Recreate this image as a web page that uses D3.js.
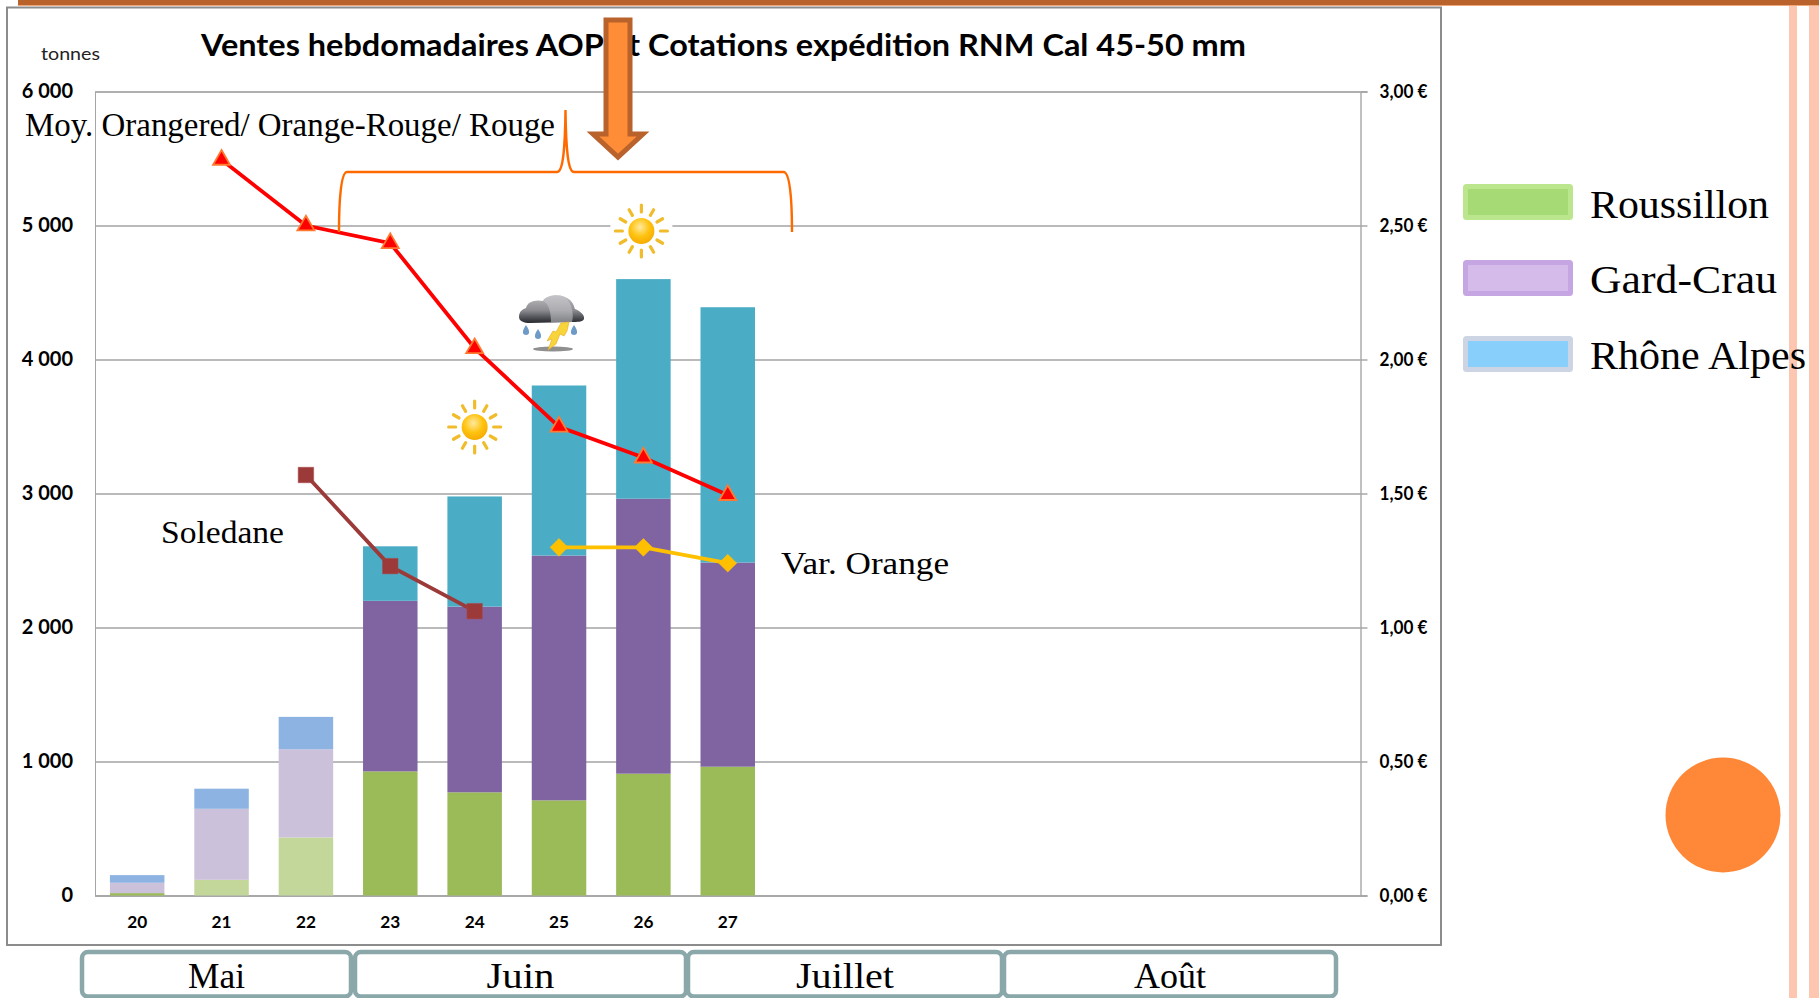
<!DOCTYPE html>
<html><head><meta charset="utf-8">
<script src="https://cdn.jsdelivr.net/npm/d3@7/dist/d3.min.js"></script>
<style>html,body{margin:0;padding:0;background:#fff;overflow:hidden}svg{display:block}</style>
</head><body><svg id="c" width="1819" height="998"></svg>
<script>
const slots = [20,21,22,23,24,25,26,27,28,29,30,31,32,33,34];
const weeks = [20,21,22,23,24,25,26,27];
const roussillon = [18,117,433,926,770,710,909,961];
const gardCrau = [77,530,658,1273,1386,1827,2052,1524];
const rhoneAlpes = [57,150,242,407,822,1269,1639,1905];
const moyRouge = [null,2.745,2.50,2.434,2.042,1.749,1.634,1.494];
const soledane = [null,null,1.569,1.229,1.061,null,null,null];
const varOrange = [null,null,null,null,null,1.299,1.299,1.24];
const leftTicks = [0,1000,2000,3000,4000,5000,6000];
const rightTicks = [0,0.5,1,1.5,2,2.5,3];
const sunWeeks = [24,26];
const months = ["Mai","Juin","Juillet","Août"];
const legendNames = ["Roussillon","Gard-Crau","Rhône Alpes"];
const title = "Ventes hebdomadaires AOP et Cotations expédition RNM Cal 45-50 mm";

const svg = d3.select("#c");
const SERIF = "'Liberation Serif',serif", SANS = "Lato,'Open Sans',sans-serif";
const L = 95, R = 1360.5, T = 91.5, B = 895.5;
const x = d3.scaleBand().domain(slots).range([L,R]).paddingInner(0.354).paddingOuter(0.177);
const y = d3.scaleLinear().domain([0,6000]).range([B,T]);
const y2 = d3.scaleLinear().domain([0,3]).range([B,T]);

function fit(sel,len){ return sel.attr("textLength",len).attr("lengthAdjust","spacingAndGlyphs"); }
function label(txt,xp,yp,len,size,fam,weight,col){
  return fit(svg.append("text").attr("x",xp).attr("y",yp).attr("font-family",fam).attr("font-size",size)
    .attr("font-weight",weight||"normal").attr("fill",col||"#000").text(txt),len);
}
const defs = svg.append("defs");
const sg = defs.append("radialGradient").attr("id","sunG").attr("cx","45%").attr("cy","35%").attr("r","65%");
sg.append("stop").attr("offset","0").attr("stop-color","#ffe9a0");
sg.append("stop").attr("offset","0.55").attr("stop-color","#ffc412");
sg.append("stop").attr("offset","1").attr("stop-color","#f7ab00");
const cg = defs.append("linearGradient").attr("id","cloudG").attr("x1",0).attr("y1",0).attr("x2",0).attr("y2",1);
cg.append("stop").attr("offset","0").attr("stop-color","#bfbfc3");
cg.append("stop").attr("offset","0.55").attr("stop-color","#8b8b90");
cg.append("stop").attr("offset","0.9").attr("stop-color","#3a3c42");
cg.append("stop").attr("offset","1").attr("stop-color","#2a2c32");

// slide decoration
svg.append("rect").attr("x",1789).attr("y",5).attr("width",8).attr("height",993).attr("fill","#fdc6b0");
svg.append("rect").attr("x",1809).attr("y",5).attr("width",10).attr("height",993).attr("fill","#fdc6b0");
svg.append("rect").attr("x",18).attr("y",0).attr("width",1801).attr("height",5).attr("fill","#b9622b");
svg.append("rect").attr("x",18).attr("y",5).attr("width",1801).attr("height",1).attr("fill","#f0a878");
svg.append("ellipse").attr("cx",1723).attr("cy",815).attr("rx",57.5).attr("ry",57.5).attr("fill","#ff8838");

// chart frame
svg.append("rect").attr("x",7).attr("y",7.5).attr("width",1434).attr("height",937.5)
  .attr("fill","#fff").attr("stroke","#8c8c8c").attr("stroke-width",2);

// grid + axes
const gl = svg.append("g").attr("transform",`translate(${L},0)`)
  .call(d3.axisLeft(y).tickValues(leftTicks).tickSize(-(R-L)).tickPadding(22)
    .tickFormat(d=>d3.format(",")(d).replace(","," ")));
gl.select(".domain").attr("stroke","#a6a6a6").attr("stroke-width",1);
gl.selectAll(".tick line").attr("stroke","#a3a3a3").attr("stroke-width",1.4);
gl.selectAll(".tick text").attr("font-family",SANS).attr("font-weight",700).attr("font-size",20).attr("fill","#000");
const gr = svg.append("g").attr("transform",`translate(${R},0)`)
  .call(d3.axisRight(y2).tickValues(rightTicks).tickSize(7).tickPadding(12)
    .tickFormat(d=>d3.format(".2f")(d).replace(".",",")+" €"));
gr.select(".domain").attr("stroke","#a0a0a0").attr("stroke-width",1.3);
gr.selectAll(".tick line").attr("stroke","#a3a3a3").attr("stroke-width",1.4);
fit(gr.selectAll(".tick text").attr("font-family",SANS).attr("font-weight",700).attr("font-size",18).attr("fill","#000"),48);
const gb = svg.append("g").attr("transform",`translate(0,${B})`)
  .call(d3.axisBottom(x).tickValues(weeks).tickSize(0).tickPadding(20));
gb.select(".domain").attr("stroke","#a6a6a6").attr("stroke-width",1.4);
fit(gb.selectAll(".tick text").attr("font-family",SANS).attr("font-weight",700).attr("font-size",17.5).attr("fill","#000"),20);

// stacked bars
const table = weeks.map((w,i)=>({week:w,Roussillon:roussillon[i],Gard:gardCrau[i],Rhone:rhoneAlpes[i]}));
const stack = d3.stack().keys(["Roussillon","Gard","Rhone"])(table);
const dark = {Roussillon:"#9bbb59",Gard:"#8064a2",Rhone:"#4bacc6"};
const pale = {Roussillon:"#c4d79b",Gard:"#ccc1da",Rhone:"#8db3e2"};
const earlyWeeks = [20,21,22];
svg.append("g").selectAll("g").data(stack).join("g").each(function(s){
  d3.select(this).selectAll("rect").data(s).join("rect")
    .attr("x",d=>x(d.data.week)).attr("width",x.bandwidth())
    .attr("y",d=>y(d[1])).attr("height",d=>y(d[0])-y(d[1]))
    .attr("fill",d=>{
      if(s.key==="Roussillon" && d.data.week===20) return dark[s.key];
      return earlyWeeks.includes(d.data.week)?pale[s.key]:dark[s.key];
    });
});

// title
label(title,201,56,1045,31,SANS,700);
label("tonnes",41,60,59,18,SANS,400,"#222");

// price lines
function series(vals,col,sym,size,stroke,rot){
  const pts = vals.map((v,i)=>({w:weeks[i],v})).filter(d=>d.v!==null);
  const line = d3.line().x(d=>x(d.w)+x.bandwidth()/2).y(d=>y2(d.v));
  svg.append("path").attr("d",line(pts)).attr("fill","none").attr("stroke",col).attr("stroke-width",3.8);
  svg.append("g").selectAll("path").data(pts).join("path")
    .attr("d",d3.symbol().type(sym).size(size))
    .attr("transform",d=>`translate(${x(d.w)+x.bandwidth()/2},${y2(d.v)}) rotate(${rot||0})`)
    .attr("fill",sym===d3.symbolTriangle?"#ff0000":col).attr("stroke",stroke).attr("stroke-width",sym===d3.symbolTriangle?1.8:0.5);
}
series(moyRouge,"#ff0000",d3.symbolTriangle,125,"#ff7a30");
series(soledane,"#9b3a38",d3.symbolSquare,240,"#a84a48");
series(varOrange,"#ffc000",d3.symbolSquare,160,"#ffc000",45);

// weather icons
function sun(cx,cy){
  const g = svg.append("g").attr("transform",`translate(${cx},${cy})`);
  g.append("rect").attr("x",-31).attr("y",-31).attr("width",62).attr("height",62).attr("fill","#fff");
  d3.range(12).forEach(k=>{
    const a = k*Math.PI/6, r0 = k%3===0?19:18, r1 = k%3===0?26:24.5;
    g.append("line").attr("x1",r0*Math.sin(a)).attr("y1",-r0*Math.cos(a))
      .attr("x2",r1*Math.sin(a)).attr("y2",-r1*Math.cos(a))
      .attr("stroke","#f0bc2c").attr("stroke-width",3.2).attr("stroke-linecap","round");
  });
  g.append("circle").attr("r",13).attr("fill","url(#sunG)");
}
sunWeeks.forEach(w=>sun(x(w)+x.bandwidth()/2-(w===26?2:0),w===26?231:427));
const st = svg.append("g");
st.append("ellipse").attr("cx",553).attr("cy",349).attr("rx",20).attr("ry",2.6).attr("fill","#8f8f8f");
st.append("path").attr("fill","url(#cloudG)")
  .attr("d","M519,317 C519,311 523,309 526,308 C527,302 535,299 543,301 C545,295 562,292 570,300 C574,304 574,307 575,309 C580,311 585,315 584,319 C583,322 577,322 572,322 L530,323 C524,323 519,321 519,317 Z");
st.append("path").attr("d","M543,301 C549,304 551,312 551,322 L572,322 C574,314 572,304 566,298 C560,293 548,294 543,301 Z")
  .attr("fill","#c9c9cc").attr("opacity",.55);
st.append("path").attr("d","M561,323 L569,322 L567,331 L564,336 L560,334 L556,344 L548,350 L552,339 L547,341 L553,331 L556,332 Z")
  .attr("fill","#f7d43a").attr("stroke","#e8a820").attr("stroke-width",.6);
[[526,330],[538,334],[574,330]].forEach(c=>
  st.append("path").attr("d",`M${c[0]},${c[1]-5} C${c[0]+5},${c[1]+2} ${c[0]+3},${c[1]+5} ${c[0]},${c[1]+5} C${c[0]-3},${c[1]+5} ${c[0]-5},${c[1]+2} ${c[0]},${c[1]-5} Z`).attr("fill","#6e9ac8"));

// brace
svg.append("path").attr("fill","none").attr("stroke","#ff6a00").attr("stroke-width",2.4)
  .attr("d","M339,232 C339,200 341,172 347,172 L557,172 C563,172 565,150 565.5,110 C566,150 568,172 574,172 L783.6,172 C790,172 792,200 792,232");

// arrow
svg.append("path").attr("d","M606,20 L630,20 L630,134 L643,134 L618,157 L593,134 L606,134 Z")
  .attr("fill","#ff8c37").attr("stroke","#b9622b").attr("stroke-width",5);

// annotations
label("Moy. Orangered/ Orange-Rouge/ Rouge",25,136,530,33,SERIF);
label("Soledane",161,543,123,31,SERIF);
label("Var. Orange",781,574,168,31,SERIF);

// legend
const swFill = ["#a6da74","#d5bbe9","#89cffb"], swEdge = ["#bce68e","#c5a5e2","#cdd5e5"];
const legendY = [184,260,336], legendBase = [218,293,369], legendLen = [179,187,216];
legendNames.forEach((n,i)=>{
  svg.append("rect").attr("x",1465.5).attr("y",legendY[i]+2.5).attr("width",105).attr("height",31)
    .attr("rx",1).attr("fill",swFill[i]).attr("stroke",swEdge[i]).attr("stroke-width",5);
  label(n,1590,legendBase[i],legendLen[i],39,SERIF);
});

// month boxes
const boxX = [[82,351],[355,686],[688,1002],[1004,1336]];
months.forEach((m,i)=>{
  const [a,b] = boxX[i];
  svg.append("rect").attr("x",a).attr("y",952).attr("width",b-a).attr("height",44.5).attr("rx",6)
    .attr("fill","#fff").attr("stroke","#8aa7a9").attr("stroke-width",4.5);
});
const monthLen = [57,68,98,72];
months.forEach((m,i)=>{
  const [a,b] = boxX[i];
  label(m,(a+b)/2-monthLen[i]/2,988,monthLen[i],35,SERIF);
});
</script></body></html>
